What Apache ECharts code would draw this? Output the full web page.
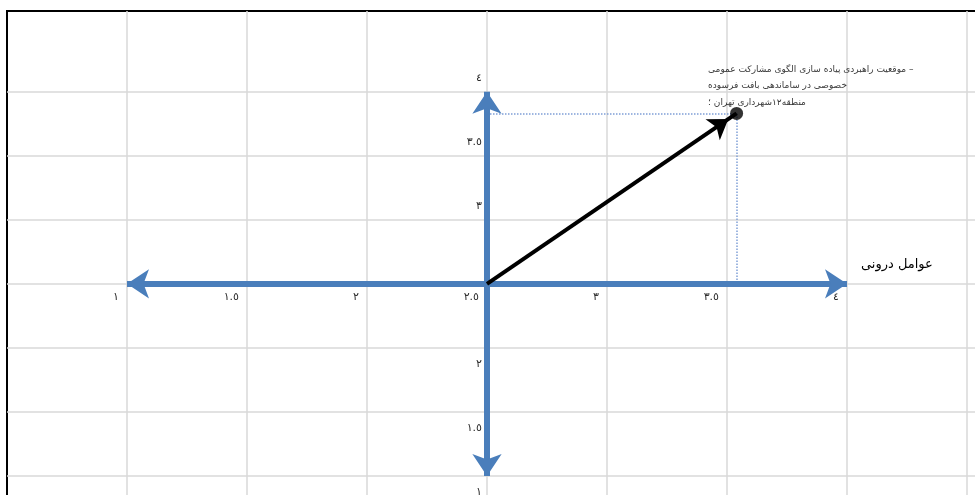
<!DOCTYPE html>
<html>
<head>
<meta charset="utf-8">
<script src="https://cdn.jsdelivr.net/npm/echarts@6.0.0/dist/echarts.min.js"></script>
<style>
  html, body { margin: 0; padding: 0; background: #fff; }
  #chart { width: 975px; height: 495px; }
</style>
</head>
<body>
<div id="chart"></div>
<script>
// both axes are drawn so that they cross at the mid value
const center = 2.5;
const xTicks = [1, 1.5, 2, 2.5, 3, 3.5, 4];
const yTicks = [1, 1.5, 2, 3, 3.5, 4];
const crossEnds = [1, 4];          // reach of the blue arrows on each axis
const point = [3.54, 3.83];        // strategic position
const pointLabel = [
  "موقعیت راهبردی پیاده سازی الگوی مشارکت عمومی –",
  "خصوصی در ساماندهی بافت فرسوده",
  "منطقه١٢شهرداری تهران ؛"
];
const xName = "عوامل درونی";

const FONT = "DejaVu Sans";
const d = (v) => v - center;
const toFa = (n) => String(n).replace(/\d/g, (c) => "٠١٢٣٤٥٦٧٨٩"[c]);
const real = (v) => +(v + center).toFixed(3);

const gridColor = "#d9d9d9";
const blue = "#4a7ebb";
const tickColor = "#2b2b2b";

// plot area runs past the right and bottom edges, like the cropped original
const W = 975, H = 495;
const gridBox = { left: 7, top: 11, right: -112, bottom: -45 };
const xRange = [-2, 2.5];
const yRange = [-2, 2.13];
// move the axes from the grid edges onto the crossing point
const xAxisOffset = -((0 - yRange[0]) / (yRange[1] - yRange[0])) * (H - gridBox.top - gridBox.bottom);
const yAxisOffset = -((0 - xRange[0]) / (xRange[1] - xRange[0])) * (W - gridBox.left - gridBox.right);

const chart = echarts.init(document.getElementById("chart"), null, { renderer: "canvas" });

const option = {
  backgroundColor: "#fff",
  animation: false,
  grid: Object.assign({
    show: true,
    borderColor: "#000", borderWidth: 2,
    backgroundColor: "#fff",
    containLabel: false,
    outerBoundsMode: "none"
  }, gridBox),
  xAxis: {
    type: "value",
    position: "bottom",
    offset: xAxisOffset,
    min: xRange[0], max: xRange[1], interval: 0.5,
    axisLine: { show: false, onZero: false },
    axisTick: { show: false },
    splitLine: {
      show: true,
      lineStyle: { color: ["transparent", gridColor, gridColor, gridColor, gridColor, gridColor, gridColor, gridColor, gridColor, gridColor], width: 1.5 }
    },
    axisLabel: {
      margin: 8,
      align: "right",
      padding: [0, 8, 0, 0],
      color: tickColor,
      fontSize: 11,
      fontFamily: FONT,
      formatter: (v) => (xTicks.includes(real(v)) ? toFa(real(v)) : "")
    }
  },
  yAxis: {
    type: "value",
    position: "left",
    offset: yAxisOffset,
    min: yRange[0], max: yRange[1], interval: 0.5,
    axisLine: { show: false, onZero: false },
    axisTick: { show: false },
    splitLine: {
      show: true,
      lineStyle: { color: [gridColor, gridColor, gridColor, gridColor, gridColor, gridColor, gridColor, gridColor, "transparent", "transparent"], width: 1.5 }
    },
    axisLabel: {
      margin: 5,
      color: tickColor,
      fontSize: 11,
      fontFamily: FONT,
      formatter: (v) => {
        const r = real(v);
        if (!yTicks.includes(r)) return "";
        return r > center ? "{up|" + toFa(r) + "}" : "{dn|" + toFa(r) + "}";
      },
      rich: {
        up: { padding: [0, 0, 28, 0], fontSize: 11, fontFamily: FONT, color: tickColor },
        dn: { padding: [32, 0, 0, 0], fontSize: 11, fontFamily: FONT, color: tickColor }
      }
    }
  },
  series: [
    {
      // dotted guides from the point to both axes
      type: "lines",
      coordinateSystem: "cartesian2d",
      silent: true,
      z: 2,
      symbol: "none",
      lineStyle: { color: "#7f9fd6", width: 1.5, type: "dotted", opacity: 1 },
      data: [
        { coords: [[0, d(point[1])], [d(point[0]), d(point[1])]] },
        { coords: [[d(point[0]), d(point[1])], [d(point[0]), 0]] }
      ]
    },
    {
      // blue cross with arrow heads
      type: "lines",
      coordinateSystem: "cartesian2d",
      silent: true,
      z: 3,
      symbol: ["none", "arrow"],
      symbolSize: 22,
      lineStyle: { color: blue, width: 6, opacity: 1 },
      data: [
        { coords: [[0, 0], [d(crossEnds[0]), 0]] },
        {
          coords: [[0, 0], [d(crossEnds[1]), 0]],
          label: {
            show: true, position: "end", formatter: xName,
            offset: [14, -19], color: "#000", fontSize: 13, fontFamily: FONT
          }
        },
        { coords: [[0, 0], [0, d(crossEnds[1])]] },
        { coords: [[0, 0], [0, d(crossEnds[0])]] }
      ]
    },
    {
      type: "scatter",
      z: 5,
      symbolSize: 13,
      itemStyle: { color: "#000" },
      data: [[d(point[0]), d(point[1])]],
      label: {
        show: true,
        position: [-22, -46],
        align: "left",
        verticalAlign: "top",
        formatter: pointLabel.join("\n"),
        lineHeight: 16.5,
        color: "#000",
        fontSize: 9,
        fontFamily: FONT
      },
      // black vector from the crossing point to the position
      markLine: {
        silent: true,
        animation: false,
        symbol: ["none", "arrow"],
        symbolSize: 19,
        symbolOffset: [0, [0, 10]],
        label: { show: false },
        lineStyle: { color: "#000", width: 4, type: "solid" },
        emphasis: { disabled: true },
        data: [[{ coord: [0, 0] }, { coord: [d(point[0]), d(point[1])] }]]
      }
    }
  ]
};

chart.setOption(option);
</script>
</body>
</html>
